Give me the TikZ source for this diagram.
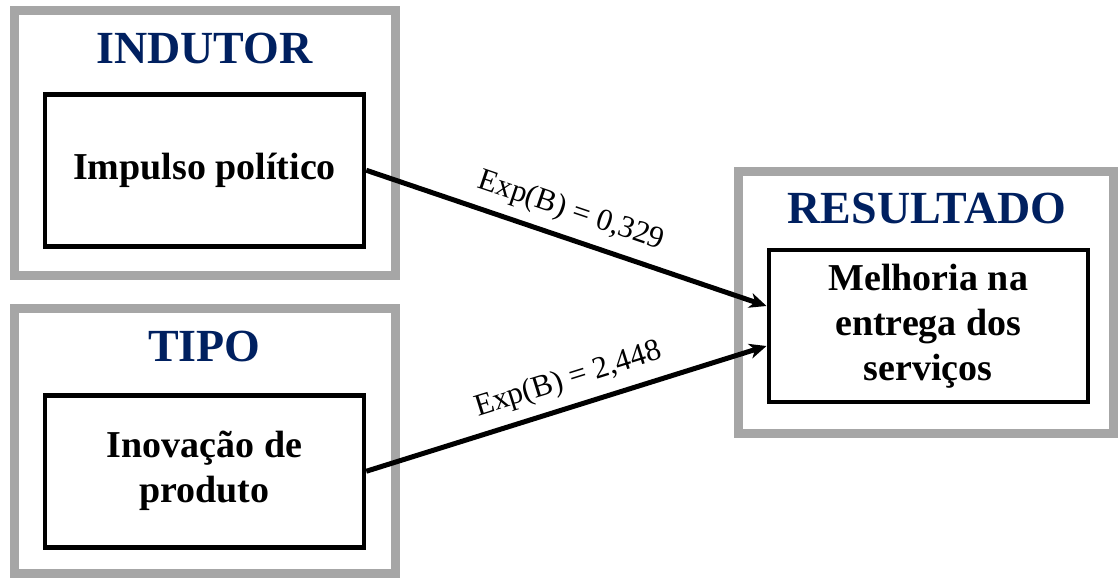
\documentclass[tikz,border=0pt]{standalone}
\usepackage{fontspec}
\setmainfont{Liberation Serif}
\usetikzlibrary{arrows.meta}
\definecolor{framegray}{HTML}{A6A6A6}
\definecolor{titlenavy}{HTML}{002060}
\begin{document}
\begin{tikzpicture}[x=1pt,y=-1pt,
  outerbox/.style={draw=framegray, line width=9pt, inner sep=0pt},
  innerbox/.style={draw=black, line width=4.5pt, minimum width=319pt, minimum height=152pt,
    align=center, inner sep=0pt, font=\fontsize{38}{45}\selectfont\bfseries},
  titletext/.style={anchor=base, text=titlenavy, inner sep=0pt,
    font=\fontsize{46}{50}\selectfont\bfseries},
  conn/.style={line width=5pt, -{Stealth[length=17pt,width=15pt,inset=5pt]}},
  lbl/.style={sloped, above=10pt, inner sep=0pt, font=\fontsize{31}{34}\selectfont}]
\useasboundingbox (0,0) rectangle (1118,579);

% grey group frames
\node[outerbox, minimum width=381pt, minimum height=265pt] (indframe) at (204.5,142.5) {};
\node[outerbox, minimum width=381pt, minimum height=265pt] (tipframe) at (204.5,440.5) {};
\node[outerbox, minimum width=375pt, minimum height=262pt] (resframe) at (925.5,302) {};

% group titles
\node[titletext] (indtitle) at (204.5,63) {INDUTOR};
\node[titletext] (tiptitle) at (204.5,361) {TIPO};
\node[titletext] (restitle) at (927,223) {RESULTADO};

% variable boxes
\node[innerbox] (impulso) at (204.5,170.25) {Impulso político};
\node[innerbox] (inovacao) at (204.5,471.25) {Inovação de\\produto};
\node[innerbox] (melhoria) at (928.25,326) {Melhoria na\\entrega dos\\serviços};

% arrow targets on the outcome box
\coordinate (tgtA) at ([yshift=20pt]melhoria.west);
\coordinate (tgtB) at ([yshift=-20pt]melhoria.west);

% effects
\draw[conn] (impulso.east) -- node[lbl, pos=0.49] (lblA) {Exp(B) = 0,329} (tgtA);
\draw[conn] (inovacao.east) -- node[lbl, pos=0.525] (lblB) {Exp(B) = 2,448} (tgtB);
\end{tikzpicture}
\end{document}
